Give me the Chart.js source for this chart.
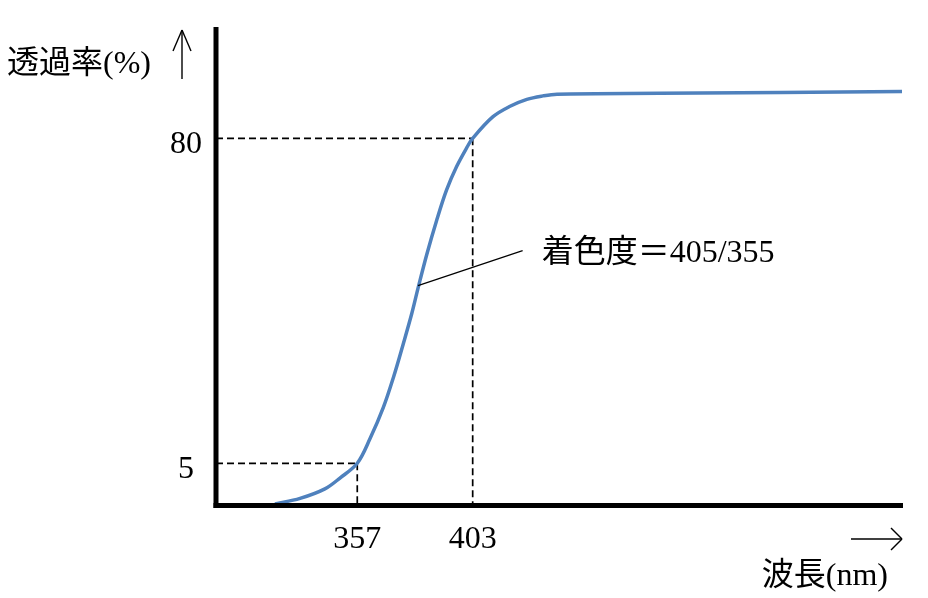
<!DOCTYPE html>
<html>
<head>
<meta charset="utf-8">
<script src="https://cdn.jsdelivr.net/npm/chart.js@4"></script>
<style>
  html,body{margin:0;padding:0;background:#fff;}
  #c{display:block;}
</style>
</head>
<body>
<canvas id="c" width="928" height="598"></canvas>
<script>
/* ---------- DATA ---------- */
const wavelength    = [324.2,334.2,344.1,350.1,357,362.1,367.4,371.4,375.3,378.7,381.3,384.7,388.6,392.6,396.6,400.6,403,411.1,417.9,424.6,431.0,436.6,477.6,574.1];
const transmittance = [-4.4,-3.1,-0.9,1.6,5,10.7,17.9,24.8,32.5,39.5,45.6,53.2,61.0,68.1,73.5,77.8,80,85.0,87.4,89.0,89.8,90.2,90.4,90.8];
const xMarks = [357,403];        // wavelengths marked with dashed lines
const yMarks = [5,80];           // transmittance levels marked
const yTitle = '透過率(%)';
const xTitle = '波長(nm)';
const noteText = '着色度＝405/355';
const notePoint = [381.2,46.0];  // where the leader touches the curve
const noteEnd   = [422.9,54.1];  // end of leader
const noteAt    = [430.5,54.5];  // text anchor

/* ---------- HELPERS ---------- */
const FONT = '"Liberation Serif","Noto Sans CJK JP",serif';
const BLUE = '#4f81bd';

function line(ctx,x1,y1,x2,y2){ctx.beginPath();ctx.moveTo(x1,y1);ctx.lineTo(x2,y2);ctx.stroke();}

const decor = {
  id:'decor',
  beforeDatasetsDraw(chart){
    const {ctx,chartArea:a,scales:{x,y}} = chart;
    ctx.save();
    ctx.strokeStyle='#000';ctx.lineWidth=1.7;ctx.setLineDash([7,4]);
    yMarks.forEach((v,i)=>{
      const py=y.getPixelForValue(v), px=x.getPixelForValue(xMarks[i]);
      line(ctx,a.left,py,px,py);
      line(ctx,px,py,px,a.bottom);
    });
    ctx.restore();
  },
  afterDatasetsDraw(chart){
    const {ctx,chartArea:a,scales:{x,y}} = chart;
    ctx.save();
    // axes
    ctx.strokeStyle='#000';ctx.lineWidth=5;
    line(ctx,a.left,a.top,a.left,a.bottom+2.5);
    line(ctx,a.left-2.5,a.bottom,a.right,a.bottom);
    // tick labels
    ctx.fillStyle='#000';ctx.font='32px '+FONT;
    ctx.textAlign='center';ctx.textBaseline='alphabetic';
    yMarks.forEach(v=>ctx.fillText(String(v),186,y.getPixelForValue(v)+15));
    xMarks.forEach(v=>ctx.fillText(String(v),x.getPixelForValue(v),548));
    // titles
    ctx.textAlign='left';
    ctx.fillText(yTitle,7,73);
    ctx.textAlign='right';
    ctx.fillText(xTitle,888,585);
    // arrows
    ctx.lineWidth=1.4;
    line(ctx,182,79,182,31);
    line(ctx,182,30,173,51);line(ctx,182,30,191,51);
    line(ctx,851,539,901,539);
    line(ctx,902,539,891,528);line(ctx,902,539,891,550);
    // annotation
    ctx.lineWidth=1.2;
    line(ctx,x.getPixelForValue(notePoint[0]),y.getPixelForValue(notePoint[1]),
             x.getPixelForValue(noteEnd[0]),y.getPixelForValue(noteEnd[1]));
    ctx.textAlign='left';
    ctx.fillText(noteText,x.getPixelForValue(noteAt[0]),262);
    ctx.restore();
  }
};

/* ---------- CHART ---------- */
new Chart(document.getElementById('c'),{
  type:'scatter',
  data:{datasets:[{
    data:wavelength.map((w,i)=>({x:w,y:transmittance[i]})),
    showLine:true,borderColor:BLUE,borderWidth:3.5,pointRadius:0,
    tension:0.35,fill:false
  }]},
  options:{
    responsive:false,animation:false,devicePixelRatio:1,
    layout:{padding:{left:216,right:25,top:27,bottom:92.5}},
    plugins:{legend:{display:false},tooltip:{enabled:false}},
    scales:{
      x:{type:'linear',min:300.7,max:574.5,display:false},
      y:{type:'linear',min:-4.74,max:105.7,display:false}
    }
  },
  plugins:[decor]
});
</script>
</body>
</html>
